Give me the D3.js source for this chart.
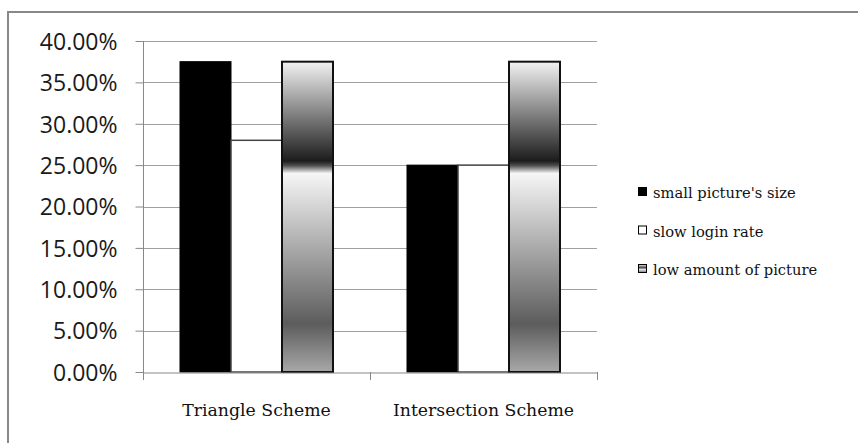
<!DOCTYPE html>
<html>
<head>
<meta charset="utf-8">
<script src="https://cdn.jsdelivr.net/npm/d3@7"></script>
<style>
  body { margin: 0; background: #fff; }
  svg { display: block; }
  .serif { font-family: "DejaVu Serif", serif; }
  .sans { font-family: "Open Sans", Lato, sans-serif; }
</style>
</head>
<body>
<svg></svg>
<script>
let categories = ['Triangle Scheme', 'Intersection Scheme'];
let seriesNames = ["small picture's size", 'slow login rate', 'low amount of picture'];
let smallSize = [0.375, 0.25];
let slowLogin = [0.28, 0.25];
let lowAmount = [0.375, 0.375];
let yTicks = [0, 0.05, 0.10, 0.15, 0.20, 0.25, 0.30, 0.35, 0.40];

let width = 858;
let height = 443;
let plotLeft = 143, plotRight = 597, plotTop = 41, plotBottom = 372;

let svg = d3.select('svg').attr('width', width).attr('height', height);

let defs = svg.append('defs');
let grad = defs.append('linearGradient')
  .attr('id', 'barGrad')
  .attr('x1', 0).attr('y1', 0).attr('x2', 0).attr('y2', 1);
[[0, '#f2f2f2'], [0.32, '#1c1c1c'], [0.335, '#505050'], [0.36, '#f6f6f6'], [0.845, '#5c5c5c'], [1, '#a8a8a8']]
  .forEach(s => grad.append('stop').attr('offset', s[0]).attr('stop-color', s[1]));

let legGrad = defs.append('linearGradient')
  .attr('id', 'legGrad')
  .attr('x1', 0).attr('y1', 0).attr('x2', 0).attr('y2', 1);
[[0, '#eee'], [0.45, '#333'], [0.55, '#f4f4f4'], [1, '#777']]
  .forEach(s => legGrad.append('stop').attr('offset', s[0]).attr('stop-color', s[1]));

// outer frame (top and left only visible)
svg.append('line').attr('x1', 8).attr('x2', 858).attr('y1', 12).attr('y2', 12)
  .attr('stroke', '#888').attr('stroke-width', 2);
svg.append('line').attr('x1', 8).attr('x2', 8).attr('y1', 11).attr('y2', 443)
  .attr('stroke', '#888').attr('stroke-width', 2);

let xScale = d3.scaleBand().domain(categories).range([plotLeft, plotRight]);
let yScale = d3.scaleLinear().domain([0, 0.4]).range([plotBottom, plotTop]);

// gridlines
svg.append('g')
  .selectAll('line')
  .data(yTicks.slice(1))
  .enter()
  .append('line')
  .attr('x1', plotLeft).attr('x2', plotRight)
  .attr('y1', d => Math.round(yScale(d)) + 0.5)
  .attr('y2', d => Math.round(yScale(d)) + 0.5)
  .attr('stroke', '#a0a0a0');

let barW = 51;
let groupPad = (xScale.bandwidth() - 3 * barW) / 2;
let series = [
  { name: seriesNames[0], values: smallSize, fill: '#000', stroke: '#000', sw: 1 },
  { name: seriesNames[1], values: slowLogin, fill: '#fff', stroke: '#444', sw: 1.5 },
  { name: seriesNames[2], values: lowAmount, fill: 'url(#barGrad)', stroke: '#111', sw: 2 }
];

series.forEach((s, i) => {
  svg.append('g')
    .selectAll('rect')
    .data(categories)
    .enter()
    .append('rect')
    .attr('x', c => xScale(c) + groupPad + i * barW)
    .attr('y', (c, j) => yScale(s.values[j]))
    .attr('width', barW)
    .attr('height', (c, j) => plotBottom - yScale(s.values[j]))
    .attr('fill', s.fill)
    .attr('stroke', s.stroke)
    .attr('stroke-width', s.sw);
});

// y axis
let yAxis = d3.axisLeft(yScale)
  .tickValues(yTicks)
  .tickSize(8)
  .tickFormat(d3.format('.2%'));
let yg = svg.append('g')
  .attr('transform', 'translate(' + (plotLeft + 0.5) + ',0)')
  .call(yAxis);
yg.attr('font-family', null).attr('font-size', null);
yg.select('.domain').attr('stroke', '#888').attr('d', 'M-0,' + (plotTop) + 'V' + (plotBottom + 8));
yg.selectAll('.tick line').attr('stroke', '#888');
yg.selectAll('.tick text')
  .attr('class', 'sans')
  .attr('x', -26)
  .attr('dy', '0.36em')
  .style('font-size', '23px')
  .attr('fill', '#1a1a1a');

// x axis
let xAxis = d3.axisBottom(xScale).tickSize(0).tickSizeOuter(0);
let xg = svg.append('g')
  .attr('transform', 'translate(0,' + (plotBottom + 0.5) + ')')
  .call(xAxis);
xg.attr('font-family', null).attr('font-size', null);
xg.select('.domain').attr('stroke', '#888');
xg.selectAll('.tick text')
  .attr('class', 'serif')
  .attr('dy', 0)
  .attr('y', 43)
  .style('font-size', '17.3px')
  .attr('fill', '#111');
// category separators
svg.append('g')
  .selectAll('line')
  .data([plotLeft, xScale(categories[1]), plotRight])
  .enter()
  .append('line')
  .attr('x1', d => Math.round(d) + 0.5).attr('x2', d => Math.round(d) + 0.5)
  .attr('y1', plotBottom).attr('y2', plotBottom + 8)
  .attr('stroke', '#888');

// legend
let legendFills = ['#000', '#fff', 'url(#legGrad)'];
let legend = svg.append('g').attr('transform', 'translate(638,187)');
seriesNames.forEach((n, i) => {
  let row = legend.append('g').attr('transform', 'translate(0,' + (i * 38.5) + ')');
  row.append('rect')
    .attr('x', 0.5).attr('y', 0.5).attr('width', 8).attr('height', 8)
    .attr('fill', legendFills[i])
    .attr('stroke', '#000').attr('stroke-width', 1);
  row.append('text')
    .attr('class', 'serif')
    .attr('x', 15).attr('y', 11)
    .style('font-size', '14.7px')
    .attr('fill', '#111')
    .text(n);
});
</script>
</body>
</html>
